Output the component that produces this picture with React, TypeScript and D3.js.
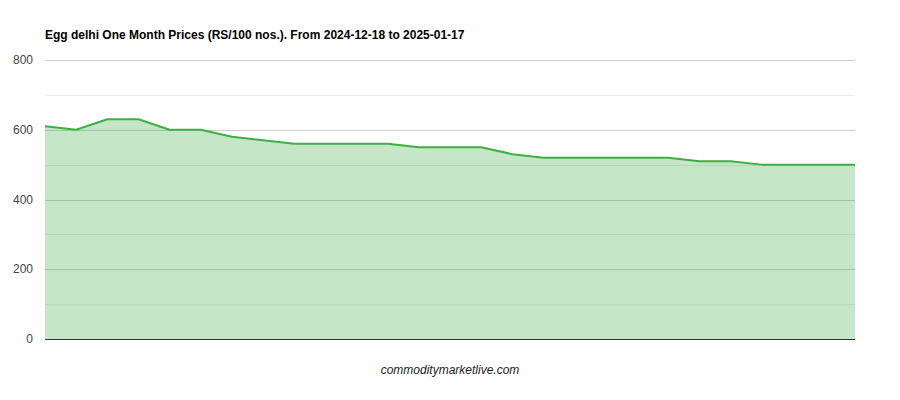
import { useEffect, useRef } from "react";
import * as d3 from "d3";

const title = "Egg delhi One Month Prices (RS/100 nos.). From 2024-12-18 to 2025-01-17";
const footer = "commoditymarketlive.com";

// one price per trading day
const prices = [
  610, 600, 630, 630, 600, 600, 580, 570, 560, 560, 560, 560, 550, 550, 550,
  530, 520, 520, 520, 520, 520, 510, 510, 500, 500, 500, 500,
];
const majorTicks = [0, 200, 400, 600, 800];
const minorTicks = [100, 300, 500, 700];

export default function App() {
  const ref = useRef<SVGSVGElement>(null);

  useEffect(() => {
    document.body.style.margin = "0";
    const svg = d3.select(ref.current);
    svg.selectAll("*").remove();

    const margin = { top: 60, right: 45, bottom: 61, left: 45 };
    const width = 900 - margin.left - margin.right;
    const height = 400 - margin.top - margin.bottom;

    const x = d3
      .scalePoint<number>()
      .domain(prices.map((_, i) => i))
      .range([0, width]);
    const y = d3.scaleLinear().domain([0, 800]).range([height, 0]);

    const chart = svg
      .append("g")
      .attr("transform", `translate(${margin.left},${margin.top})`);

    // minor gridlines
    chart
      .selectAll(".minor")
      .data(minorTicks)
      .enter()
      .append("line")
      .attr("x1", 0)
      .attr("x2", width)
      .attr("y1", (d) => Math.round(y(d)) + 0.5)
      .attr("y2", (d) => Math.round(y(d)) + 0.5)
      .attr("stroke", "#ebebeb");

    // major gridlines
    chart
      .selectAll(".major")
      .data(majorTicks.filter((d) => d !== 0))
      .enter()
      .append("line")
      .attr("x1", 0)
      .attr("x2", width)
      .attr("y1", (d) => Math.round(y(d)) + 0.5)
      .attr("y2", (d) => Math.round(y(d)) + 0.5)
      .attr("stroke", "#cccccc");

    // y labels
    chart
      .selectAll(".ylab")
      .data(majorTicks)
      .enter()
      .append("text")
      .attr("x", -12)
      .attr("y", (d) => y(d) + 4)
      .attr("text-anchor", "end")
      .style("font-family", "Arial, 'Liberation Sans', sans-serif")
      .style("font-size", "12px")
      .attr("fill", "#444")
      .text((d) => d);

    const area = d3
      .area<number>()
      .x((_, i) => x(i)!)
      .y0(y(0))
      .y1((d) => y(d));
    const line = d3
      .line<number>()
      .x((_, i) => x(i)!)
      .y((d) => y(d));

    chart
      .append("path")
      .datum(prices)
      .attr("d", area)
      .attr("fill", "#3eaf44")
      .attr("fill-opacity", 0.3);

    chart
      .append("path")
      .datum(prices)
      .attr("d", line)
      .attr("fill", "none")
      .attr("stroke", "#3eaf44")
      .attr("stroke-width", 2)
      .attr("stroke-linejoin", "round");

    // baseline
    chart
      .append("line")
      .attr("x1", 0)
      .attr("x2", width)
      .attr("y1", Math.round(y(0)) + 0.5)
      .attr("y2", Math.round(y(0)) + 0.5)
      .attr("stroke", "#333");

    svg
      .append("text")
      .attr("x", margin.left)
      .attr("y", 39)
      .style("font-family", "Arial, 'Liberation Sans', sans-serif")
      .style("font-size", "12px")
      .style("font-weight", "bold")
      .attr("fill", "#000")
      .text(title);

    svg
      .append("text")
      .attr("x", margin.left + width / 2)
      .attr("y", 374)
      .attr("text-anchor", "middle")
      .style("font-family", "Arial, 'Liberation Sans', sans-serif")
      .style("font-size", "12px")
      .style("font-style", "italic")
      .attr("fill", "#222")
      .text(footer);
  }, []);

  return <svg ref={ref} width={900} height={400} style={{ display: "block" }} />;
}
